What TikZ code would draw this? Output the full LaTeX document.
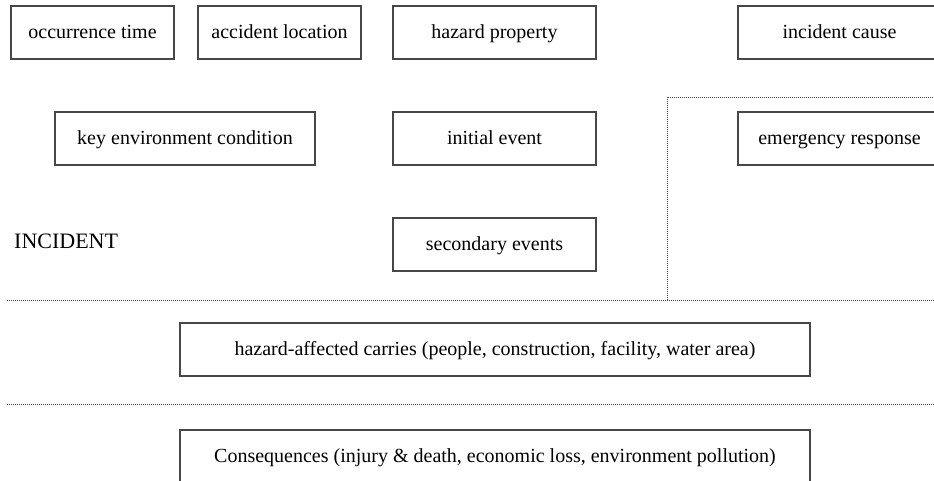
\documentclass[tikz,border=0pt]{standalone}
\usepackage{fontspec}
\setmainfont{Liberation Serif}
\begin{document}
\begin{tikzpicture}[x=1pt,y=-1pt,
  box/.style={draw=black!72,line width=1.1pt,fill=white,inner sep=0pt,minimum height=53pt,text height=15pt,text depth=3pt,font=\fontsize{20}{23}\selectfont},
  sep/.style={draw=black!75,line width=0.9pt,dash pattern=on 1pt off 1pt}]
\useasboundingbox (0,0) rectangle (934,481);
\clip (0,0) rectangle (934,481);
% separators
\coordinate (l1a) at (7,300);
\coordinate (l1b) at (934,300);
\coordinate (l2a) at (7,404);
\coordinate (l2b) at (934,404);
\coordinate (fa) at (667,300);
\coordinate (fb) at (667,97);
\coordinate (fc) at (934,97);
\draw[sep] (l1a) -- (l1b);
\draw[sep] (l2a) -- (l2b);
\draw[sep] (fa) -- (fb) -- (fc);
% boxes
\node[box,minimum width=163pt] (time) at (92.5,32.5) {occurrence time};
\node[box,minimum width=163pt] (loc) at (279.5,32.5) {accident location};
\node[box,minimum width=203pt] (haz) at (494.5,32.5) {hazard property};
\node[box,minimum width=203pt] (cause) at (839.5,32.5) {incident cause};
\node[box,minimum width=260pt] (env) at (185,138.5) {key environment condition};
\node[box,minimum width=203pt] (init) at (494.5,138.5) {initial event};
\node[box,minimum width=203pt] (emer) at (839.5,138.5) {emergency response};
\node[box,minimum width=203pt] (sec) at (494.5,244.5) {secondary events};
\node[anchor=west,inner sep=0pt,font=\fontsize{22}{25}\selectfont] (inc) at (14,241) {INCIDENT};
\node[box,minimum width=630pt] (carr) at (495,349.5) {hazard-affected carries (people, construction, facility, water area)};
\node[box,minimum width=630pt] (cons) at (495,456.5) {Consequences (injury \& death, economic loss, environment pollution)};
\end{tikzpicture}
\end{document}
